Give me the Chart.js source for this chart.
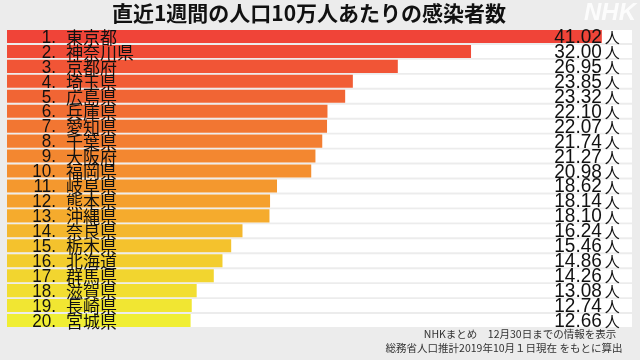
<!DOCTYPE html>
<html>
<head>
<meta charset="utf-8">
<script src="https://cdn.jsdelivr.net/npm/chart.js@4.4.1/dist/chart.umd.min.js"></script>
<style>
  html, body { margin: 0; padding: 0; background: #ececec; }
  #wrap { width: 640px; height: 360px; position: relative; }
</style>
</head>
<body>
<div id="wrap"><canvas id="myChart"></canvas></div>
<script>
const title = "直近1週間の人口10万人あたりの感染者数";
const prefectures = [
  "東京都", "神奈川県", "京都府", "埼玉県", "広島県",
  "兵庫県", "愛知県", "千葉県", "大阪府", "福岡県",
  "岐阜県", "熊本県", "沖縄県", "奈良県", "栃木県",
  "北海道", "群馬県", "滋賀県", "長崎県", "宮城県"
];
const casesPer100k = [
  41.02, 32.00, 26.95, 23.85, 23.32,
  22.10, 22.07, 21.74, 21.27, 20.98,
  18.62, 18.14, 18.10, 16.24, 15.46,
  14.86, 14.26, 13.08, 12.74, 12.66
];
const unit = "人";
const footnotes = [
  "NHKまとめ　12月30日までの情報を表示",
  "総務省人口推計2019年10月１日現在 をもとに算出"
];

const axisMax = 43.1;

// red -> orange -> yellow, by rank
const colorStops = [
  [0, [240, 68, 56]],
  [6, [242, 118, 50]],
  [11, [245, 160, 45]],
  [15, [243, 205, 45]],
  [19, [240, 238, 52]]
];
function rankColor(i) {
  for (let k = 0; k < colorStops.length - 1; k++) {
    const [a, ca] = colorStops[k];
    const [b, cb] = colorStops[k + 1];
    if (i >= a && i <= b) {
      const t = (i - a) / (b - a);
      const c = ca.map((v, j) => Math.round(v + (cb[j] - v) * t));
      return `rgb(${c[0]},${c[1]},${c[2]})`;
    }
  }
  return "rgb(240,238,52)";
}

// draws text squeezed horizontally so it looks taller/narrower
function tallText(ctx, text, x, y, sx) {
  ctx.save();
  ctx.translate(x, y);
  ctx.scale(sx, 1);
  ctx.fillText(text, 0, 0);
  ctx.restore();
}

const labelPlugin = {
  id: "rankLabels",
  afterDatasetsDraw(chart) {
    const ctx = chart.ctx;
    const bars = chart.getDatasetMeta(1).data;
    const valueRight = chart.scales.x.getPixelForValue(casesPer100k[0]);
    ctx.save();
    ctx.fillStyle = "#111";
    ctx.textBaseline = "middle";
    bars.forEach((bar, i) => {
      const y = bar.y + 1;
      ctx.font = "19px 'Liberation Sans', Arial, sans-serif";
      ctx.textAlign = "right";
      tallText(ctx, (i + 1) + ".", 56, y, 0.9);
      ctx.font = "17px 'Noto Sans CJK JP', sans-serif";
      ctx.textAlign = "left";
      ctx.fillText(prefectures[i], 66, y);
      ctx.font = "20px 'Liberation Sans', Arial, sans-serif";
      ctx.textAlign = "right";
      tallText(ctx, casesPer100k[i].toFixed(2), valueRight, y, 0.95);
      ctx.font = "15px 'Noto Sans CJK JP', sans-serif";
      ctx.textAlign = "left";
      ctx.fillText(unit, valueRight + 3, y);
    });
    ctx.restore();
  },
  afterDraw(chart) {
    const ctx = chart.ctx;
    ctx.save();
    ctx.fillStyle = "#111";
    ctx.textAlign = "center";
    ctx.textBaseline = "middle";
    ctx.font = "bold 21px 'Noto Sans CJK JP', sans-serif";
    ctx.fillText(title, 309, 13);

    ctx.fillStyle = "rgba(255,255,255,0.85)";
    ctx.font = "italic bold 24px 'Liberation Sans', Arial, sans-serif";
    ctx.textAlign = "right";
    ctx.fillText("NHK", 636, 13);

    ctx.fillStyle = "#333";
    ctx.font = "10.5px 'Noto Sans CJK JP', sans-serif";
    ctx.textAlign = "center";
    ctx.fillText(footnotes[0], 520, 334);
    ctx.fillText(footnotes[1], 504, 348);
    ctx.restore();
  }
};

const ctx = document.getElementById("myChart").getContext("2d");
const myChart = new Chart(ctx, {
  type: "bar",
  data: {
    labels: prefectures,
    datasets: [
      {
        data: prefectures.map(() => axisMax),
        backgroundColor: "#ffffff",
        grouped: false,
        order: 2,
        barPercentage: 0.87,
        categoryPercentage: 1
      },
      {
        data: casesPer100k,
        backgroundColor: casesPer100k.map((v, i) => rankColor(i)),
        grouped: false,
        order: 1,
        barPercentage: 0.87,
        categoryPercentage: 1
      }
    ]
  },
  options: {
    indexAxis: "y",
    responsive: true,
    maintainAspectRatio: false,
    animation: false,
    layout: { padding: { left: 7, right: 8, top: 29, bottom: 32 } },
    scales: {
      x: { display: false, min: 0, max: axisMax },
      y: { display: false }
    },
    plugins: {
      legend: { display: false },
      tooltip: { enabled: false }
    }
  },
  plugins: [labelPlugin]
});
</script>
</body>
</html>
